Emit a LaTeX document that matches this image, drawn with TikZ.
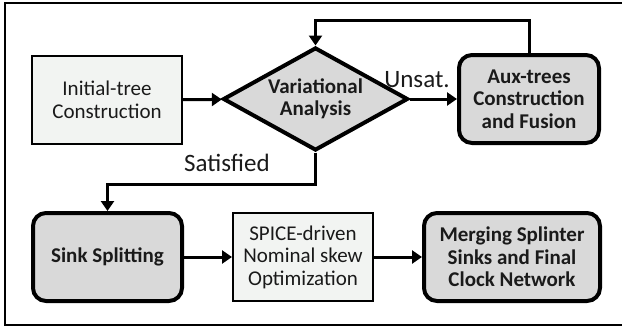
\documentclass[tikz,border=0pt]{standalone}
\usepackage{fontspec}
\setmainfont{Carlito}
\usetikzlibrary{shapes.geometric,arrows.meta}
\definecolor{clair}{HTML}{F2F4F2}
\definecolor{fonce}{HTML}{D9D9D9}
\definecolor{texte}{HTML}{1A1A1A}
\tikzset{
    simple/.style={draw,line width=2pt,fill=clair,text=texte,align=center,
        minimum height=88pt,inner sep=0pt,font=\fontsize{21}{22.5}\selectfont},
    arrondi/.style={draw,line width=4pt,fill=fonce,text=texte,align=center,
        rounded corners=13pt,minimum height=88pt,inner sep=0pt,
        font=\bfseries\fontsize{21}{22.5}\selectfont},
    fleche/.style={line width=3pt,-{Triangle[length=10pt,width=13pt]}},
    etiq/.style={text=texte,font=\fontsize{25}{27}\selectfont}
}
\begin{document}
\begin{tikzpicture}[x=1pt,y=-1pt]
    \useasboundingbox (0,0) rectangle (622,332);
    % Cadre
    \draw[line width=2pt] (5,3) rectangle (640,325);

    % Première ligne
    \node[simple,minimum width=150pt] (init) at (107,100) {Initial-tree\\Construction};
    \node[diamond,draw,line width=4pt,fill=fonce,text=texte,aspect=1.8,inner sep=0pt,
        minimum width=185pt,minimum height=103pt,align=center,
        font=\bfseries\fontsize{21}{22.5}\selectfont] (var) at (315.5,99) {Variational\\Analysis};
    \node[arrondi,minimum width=140pt] (aux) at (529,99) {Aux-trees\\Construction\\and Fusion};

    % Deuxième ligne
    \node[arrondi,minimum width=149pt] (sink) at (107.5,257) {Sink Splitting};
    \node[simple,minimum width=140pt] (spice) at (303,257) {SPICE-driven\\Nominal skew\\Optimization};
    \node[arrondi,minimum width=176pt] (merge) at (512,257) {Merging Splinter\\Sinks and Final\\Clock Network};

    % Flèches
    \draw[fleche] (init) -- (var);
    \draw[fleche] (var) -- (aux);
    \draw[fleche] (aux.north) -- ++(0,-33) -| (var.north);
    \draw[fleche] (var.south) -- ++(0,32) -| (sink.north);
    \draw[fleche] (sink) -- (spice);
    \draw[fleche] (spice) -- (merge);

    \node[etiq] (unsat) at (417,80) {Unsat.};
    \node[etiq] (sat) at (227,163) {Satisfied};
\end{tikzpicture}
\end{document}
